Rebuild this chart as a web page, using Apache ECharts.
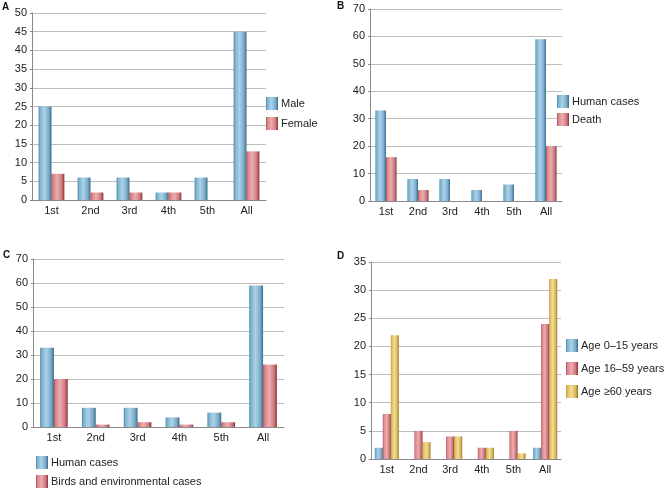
<!DOCTYPE html>
<html>
<head>
<meta charset="utf-8">
<script src="https://cdn.jsdelivr.net/npm/echarts@6/dist/echarts.min.js"></script>
<style>
html,body{margin:0;padding:0;background:#fff;}
#c{width:668px;height:488px;}
</style>
</head>
<body>
<div id="c"></div>
<script>
const categories = ['1st', '2nd', '3rd', '4th', '5th', 'All'];

// Panel A
const aMale = [25, 6, 6, 2, 6, 45];
const aFemale = [7, 2, 2, 2, 0, 13];
// Panel B
const bHuman = [33, 8, 8, 4, 6, 59];
const bDeath = [16, 4, 0, 0, 0, 20];
// Panel C
const cHuman = [33, 8, 8, 4, 6, 59];
const cBirds = [20, 1, 2, 1, 2, 26];
// Panel D
const dAge0 = [2, 0, 0, 0, 0, 2];
const dAge16 = [8, 5, 4, 2, 5, 24];
const dAge60 = [22, 3, 4, 2, 1, 32];

const FONT = 'Liberation Sans, Arial, sans-serif';

function grad(stops) {
  return new echarts.graphic.LinearGradient(0, 0, 1, 0, stops.map((c, i) => ({offset: [0, 0.12, 0.45, 0.8, 1][i], color: c})));
}
const BLUE = grad(['#4a85a8', '#7db2cf', '#abd2e7', '#78aac7', '#3a6b8c']);
const RED = grad(['#a9474f', '#d7858a', '#eeacaf', '#cc7a7f', '#8c3139']);
const GOLD = grad(['#b8952f', '#dcbd62', '#f4dc95', '#d9b85a', '#94761f']);

const grids = [
  {left: 32, top: 13, width: 234, height: 187},
  {left: 370, top: 9, width: 192, height: 192},
  {left: 33, top: 259, width: 251, height: 168},
  {left: 371, top: 262, width: 190, height: 197}
];
const yCfg = [
  {max: 50, interval: 5},
  {max: 70, interval: 10},
  {max: 70, interval: 10},
  {max: 35, interval: 5}
];

const xAxis = grids.map((g, i) => ({
  type: 'category', gridIndex: i, data: categories,
  axisLine: {lineStyle: {color: '#8a8a8a'}},
  axisTick: {show: false},
  axisLabel: {color: '#222', fontSize: 11, fontFamily: FONT, margin: 5}
}));
const yAxis = yCfg.map((y, i) => ({
  type: 'value', gridIndex: i, min: 0, max: y.max, interval: y.interval,
  axisLine: {show: true, lineStyle: {color: '#8a8a8a'}},
  axisTick: {show: true, length: 2, lineStyle: {color: '#8a8a8a'}},
  splitLine: {lineStyle: {color: '#bdbdbd'}},
  axisLabel: {color: '#222', fontSize: 11, fontFamily: FONT, margin: 5}
}));

function bar(name, data, idx, color, gap) {
  return {
    type: 'bar', name: name, data: data, xAxisIndex: idx, yAxisIndex: idx,
    barGap: '0%', barCategoryGap: gap,
    itemStyle: {color: color}
  };
}

const series = [
  bar('Male', aMale, 0, BLUE, '34%'),
  bar('Female', aFemale, 0, RED, '34%'),
  bar('Human cases', bHuman, 1, BLUE, '34%'),
  bar('Death', bDeath, 1, RED, '34%'),
  bar('Human cases ', cHuman, 2, BLUE, '34%'),
  bar('Birds and environmental cases', cBirds, 2, RED, '34%'),
  bar('Age 0\u201315 years', dAge0, 3, BLUE, '24%'),
  bar('Age 16\u201359 years', dAge16, 3, RED, '24%'),
  bar('Age \u226560 years', dAge60, 3, GOLD, '24%')
];

function legend(data, left, top, gap) {
  return {
    data: data, orient: 'vertical', left: left, top: top,
    width: 220, height: 100,
    icon: 'rect', itemWidth: 12, itemHeight: 13, itemGap: gap,
    selectedMode: false,
    textStyle: {color: '#222', fontSize: 11, fontFamily: FONT, padding: [0, 0, 0, -2]},
    padding: 0
  };
}

const option = {
  animation: false,
  backgroundColor: '#fff',
  grid: grids,
  xAxis: xAxis,
  yAxis: yAxis,
  series: series,
  legend: [
    legend(['Male', 'Female'], 266, 97, 7),
    legend(['Human cases', 'Death'], 557, 95, 5),
    legend(['Human cases ', 'Birds and environmental cases'], 36, 456, 6),
    legend(['Age 0\u201315 years', 'Age 16\u201359 years', 'Age \u226560 years'], 566, 339, 10)
  ],
  graphic: [
    {type: 'text', left: 2, top: 2, style: {text: 'A', font: 'bold 10px ' + FONT, fill: '#111'}},
    {type: 'text', left: 337, top: 1, style: {text: 'B', font: 'bold 10px ' + FONT, fill: '#111'}},
    {type: 'text', left: 3, top: 250, style: {text: 'C', font: 'bold 10px ' + FONT, fill: '#111'}},
    {type: 'text', left: 337, top: 251, style: {text: 'D', font: 'bold 10px ' + FONT, fill: '#111'}}
  ]
};

const chart = echarts.init(document.getElementById('c'));
chart.setOption(option);
</script>
</body>
</html>
